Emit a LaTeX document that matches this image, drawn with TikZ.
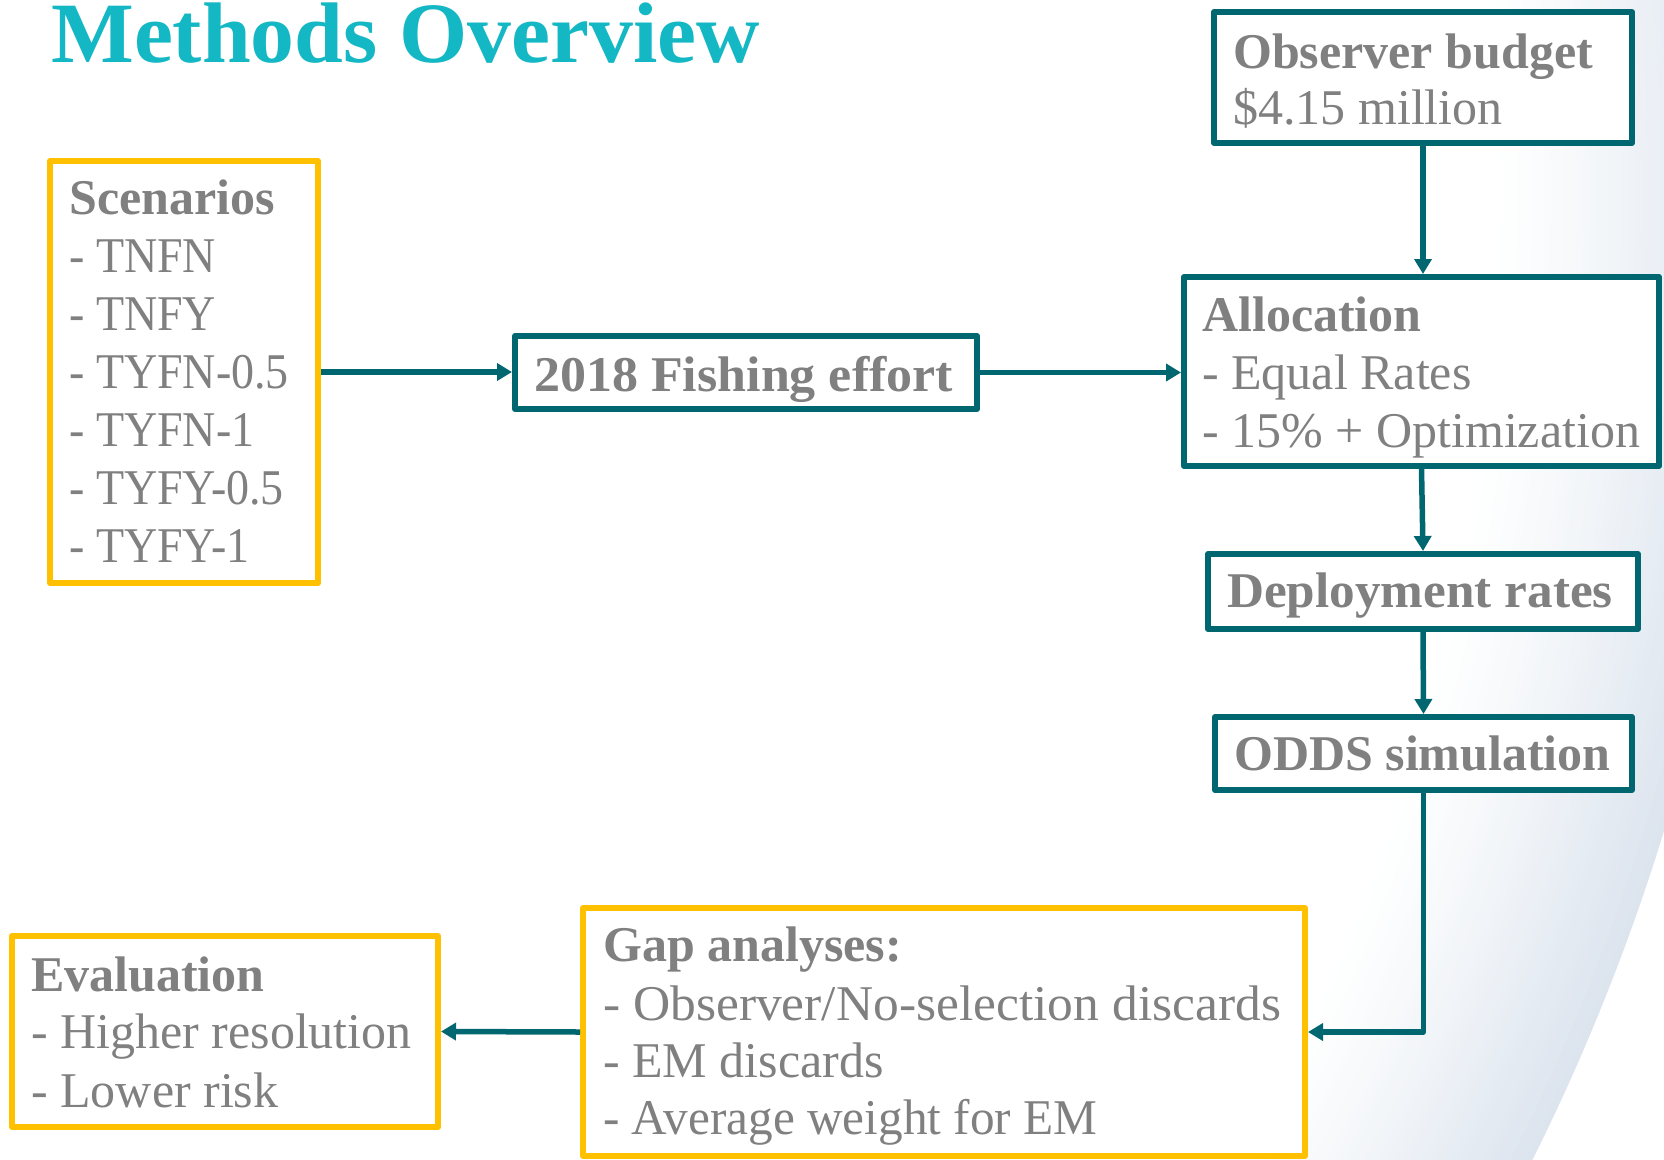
\documentclass[tikz,border=0pt]{standalone}
\usepackage{fontspec}
\setmainfont{Liberation Serif}
\usetikzlibrary{arrows.meta}

\definecolor{flowteal}{RGB}{0,102,112}
\definecolor{accent}{RGB}{255,192,0}
\definecolor{bodygray}{RGB}{128,128,128}
\definecolor{titlecyan}{RGB}{20,184,196}
\definecolor{rimblue}{RGB}{220,228,238}

\begin{document}
\begin{tikzpicture}[x=1pt,y=-1pt,
  box/.style={draw, line width=6pt, fill=white, line join=round, inner sep=0pt},
  tealbox/.style={box, draw=flowteal},
  goldbox/.style={box, draw=accent},
  txt/.style={anchor=base west, inner sep=0pt, text=bodygray,
              font=\fontsize{50}{58}\selectfont},
  head/.style={txt, font=\fontsize{50}{58}\selectfont\bfseries},
  flow/.style={draw=flowteal, line width=5.5pt, line join=round,
               -{Triangle[length=15pt,width=17pt]}},
]
% canvas
\useasboundingbox (0,0) rectangle (1664,1159);
\fill[white] (0,0) rectangle (1664,1159);

% soft rim of a large disc in the lower right background, built from rings
\begin{scope}
  \clip (0,0) rectangle (1664,1159);
  \foreach \i in {0,...,40}{
    \pgfmathsetmacro\rr{2163-6.5*\i}
    \pgfmathsetmacro\pc{100*(1-\i/40)^1.2}
    \fill[rimblue!\pc!white] (-404,195) circle [radius=\rr pt];
  }
\end{scope}

% title
\node[anchor=base west, inner sep=0pt, text=titlecyan,
      font=\fontsize{86}{90}\selectfont\bfseries] (title) at (51,62)
      {\scalebox{1.02}[1]{Methods Overview}};

% boxes
\node[goldbox, minimum width=268pt, minimum height=422pt] (scen)   at (184,372)    {};
\node[tealbox, minimum width=462pt, minimum height=73pt]  (fish)   at (746,372.5)  {};
\node[tealbox, minimum width=418pt, minimum height=131pt] (obs)    at (1423,77.5)  {};
\node[tealbox, minimum width=475pt, minimum height=189pt] (alloc)  at (1421.5,371.5) {};
\node[tealbox, minimum width=430pt, minimum height=75pt]  (deploy) at (1423,591.5) {};
\node[tealbox, minimum width=417pt, minimum height=73pt]  (odds)   at (1423.5,753.5) {};
\node[goldbox, minimum width=722pt, minimum height=248pt] (gap)    at (944,1032)   {};
\node[goldbox, minimum width=426pt, minimum height=191pt] (eval)   at (225,1031.5) {};

% box texts
\node[head] (scen-h) at (69,214) {Scenarios};
\node[txt]  (scen-1) at (69,272) {\scalebox{0.92}[1]{- TNFN}};
\node[txt]  (scen-2) at (69,330) {\scalebox{0.92}[1]{- TNFY}};
\node[txt]  (scen-3) at (69,388) {\scalebox{0.92}[1]{- TYFN-0.5}};
\node[txt]  (scen-4) at (69,446) {\scalebox{0.92}[1]{- TYFN-1}};
\node[txt]  (scen-5) at (69,504) {\scalebox{0.92}[1]{- TYFY-0.5}};
\node[txt]  (scen-6) at (69,562) {\scalebox{0.92}[1]{- TYFY-1}};

\node[head] (fish-h) at (534,391) {\scalebox{1.04}[1]{2018 Fishing effort}};

\node[head] (obs-h) at (1233,68)  {Observer budget};
\node[txt]  (obs-1) at (1233,124) {\$4.15 million};

\node[head] (alloc-h) at (1202,331) {Allocation};
\node[txt]  (alloc-1) at (1202,389) {- Equal Rates};
\node[txt]  (alloc-2) at (1202,447) {- 15\% + Optimization};

\node[head] (deploy-h) at (1227,607) {\scalebox{1.025}[1]{Deployment rates}};
\node[head] (odds-h)   at (1234,770) {ODDS simulation};

\node[head] (gap-h) at (603,961)  {Gap analyses:};
\node[txt]  (gap-1) at (603,1020) {\scalebox{1.03}[1]{- Observer/No-selection discards}};
\node[txt]  (gap-2) at (603,1077) {- EM discards};
\node[txt]  (gap-3) at (603,1134) {\scalebox{0.985}[1]{- Average weight for EM}};

\node[head] (eval-h) at (31,991)  {Evaluation};
\node[txt]  (eval-1) at (31,1048) {- Higher resolution};
\node[txt]  (eval-2) at (31,1107) {- Lower risk};

% connectors
\draw[flow] (scen.east) -- (scen.east -| fish.west);
\draw[flow] (fish.east) -- (fish.east -| alloc.west);
\draw[flow] (obs.south) -- (obs.south |- alloc.north);
\draw[flow] (alloc.south) -- (deploy.north);
\draw[flow] (deploy.south) -- (odds.north);
\draw[flow] (odds.south) |- (gap.east);
\draw[flow] (gap.west) -- (eval.east);
\end{tikzpicture}
\end{document}
